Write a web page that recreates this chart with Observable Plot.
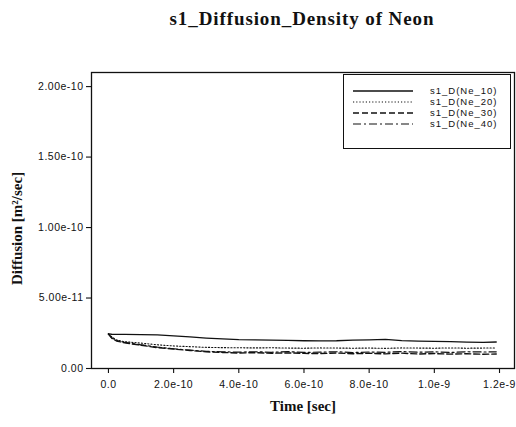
<!DOCTYPE html>
<html><head><meta charset="utf-8">
<script src="https://cdn.jsdelivr.net/npm/d3@7"></script>
<script src="https://cdn.jsdelivr.net/npm/@observablehq/plot@0.6"></script>
<style>
body{margin:0;background:#fff;width:516px;height:427px;overflow:hidden;position:relative;font-family:"Liberation Sans",Arial,sans-serif}
#title{position:absolute;left:88px;width:428px;top:8px;text-align:center;font:bold 19px "Liberation Serif","Times New Roman",serif;letter-spacing:0.9px;color:#111}
#chart{position:absolute;left:0;top:40px}
#legend{position:absolute;left:343px;top:74px;width:168px;height:75px;border:1px solid #111;background:#fff;box-sizing:border-box}
#legend .row{position:absolute;left:8px;height:10px;display:flex;align-items:center}
#legend .row span{margin-left:16px;font-size:9.5px;letter-spacing:1px;color:#111;line-height:10px}
</style></head>
<body>
<div id="title">s1_Diffusion_Density of Neon</div>
<div id="chart"></div>
<div id="legend"></div>
<script>
// time in seconds
const times = [0, 1e-11, 2.5e-11, 5e-11, 1e-10, 1.5e-10, 2e-10, 2.5e-10, 3e-10, 3.5e-10, 4e-10, 4.5e-10, 5e-10, 5.5e-10, 6e-10, 6.5e-10, 7e-10, 7.5e-10, 8e-10, 8.5e-10, 9e-10, 9.5e-10, 1e-9, 1.05e-9, 1.1e-9, 1.15e-9, 1.19e-9];
// diffusion values in units of 1e-11 m^2/sec
const ne10 = [2.45, 2.43, 2.42, 2.42, 2.41, 2.38, 2.32, 2.24, 2.16, 2.10, 2.05, 2.03, 2.01, 1.99, 1.97, 1.96, 1.97, 2.01, 2.03, 2.06, 1.98, 1.94, 1.92, 1.90, 1.87, 1.86, 1.88];
const ne20 = [2.45, 2.25, 2.02, 1.90, 1.80, 1.68, 1.60, 1.55, 1.50, 1.48, 1.47, 1.46, 1.47, 1.45, 1.44, 1.46, 1.45, 1.44, 1.45, 1.43, 1.46, 1.45, 1.44, 1.46, 1.44, 1.45, 1.45];
const ne30 = [2.45, 2.15, 1.95, 1.82, 1.65, 1.48, 1.38, 1.28, 1.18, 1.14, 1.10, 1.12, 1.08, 1.11, 1.07, 1.06, 1.10, 1.05, 1.08, 1.04, 1.09, 1.03, 1.06, 1.02, 1.05, 1.01, 1.03];
const ne40 = [2.45, 2.18, 1.98, 1.85, 1.68, 1.52, 1.40, 1.30, 1.22, 1.18, 1.16, 1.19, 1.15, 1.20, 1.14, 1.16, 1.19, 1.13, 1.17, 1.15, 1.20, 1.16, 1.18, 1.14, 1.19, 1.17, 1.18];
const seriesNames = ["s1_D(Ne_10)", "s1_D(Ne_20)", "s1_D(Ne_30)", "s1_D(Ne_40)"];
const xTicks = [0, 2e-10, 4e-10, 6e-10, 8e-10, 1e-9, 1.2e-9];
const xTickLabels = ["0.0", "2.0e-10", "4.0e-10", "6.0e-10", "8.0e-10", "1.0e-9", "1.2e-9"];
const yTicks = [0, 5e-11, 1e-10, 1.5e-10, 2e-10];
const yTickLabels = ["0.00", "5.00e-11", "1.00e-10", "1.50e-10", "2.00e-10"];

const dashes = ["none", "1.2,2", "6,3", "8,3,2,3"];
const widths = [1.3, 1.1, 1.4, 1.2];
const allSeries = [ne10, ne20, ne30, ne40];
const rows = [];
allSeries.forEach((vals, si) => vals.forEach((v, i) => rows.push({series: seriesNames[si], t: times[i], d: v * 1e-11})));

const serif = '"Liberation Serif","Times New Roman",serif';
const sans = '"Liberation Sans",Arial,sans-serif';

const plot = Plot.plot({
  width: 516, height: 387,
  marginTop: 32, marginBottom: 59, marginLeft: 91, marginRight: 2,
  style: {background: "#fff", color: "#111"},
  x: {domain: [-5.2e-11, 1.246e-9]},
  y: {domain: [0, 2.1e-10]},
  marks: [
    Plot.axisX({ticks: xTicks, tickFormat: d => xTickLabels[xTicks.indexOf(d)], tickSize: 5, tickPadding: 7, fontSize: 10.5, fontFamily: sans, label: null, stroke: "#111", strokeWidth: 1.1}),
    Plot.axisY({ticks: yTicks, tickFormat: d => yTickLabels[yTicks.indexOf(d)], tickSize: 5, tickPadding: 3, fontSize: 10.5, fontFamily: sans, label: null, stroke: "#111", strokeWidth: 1.1}),
    ...seriesNames.map((name, si) => Plot.line(rows.filter(r => r.series === name), {x: "t", y: "d", stroke: "#111", strokeWidth: widths[si], strokeDasharray: dashes[si]})),
    Plot.frame({stroke: "#111", strokeWidth: 1.3}),
    Plot.text(["Time [sec]"], {frameAnchor: "bottom", dy: 42, fontFamily: serif, fontWeight: "bold", fontSize: 15, fill: "#111"}),
    Plot.text(["Diffusion [m²/sec]"], {frameAnchor: "left", textAnchor: "middle", dx: -74, dy: 8, rotate: -90, fontFamily: serif, fontWeight: "bold", fontSize: 15, fill: "#111"})
  ]
});
plot.querySelectorAll("[aria-label='x-axis tick label'] text, [aria-label='y-axis tick label'] text").forEach(t => t.style.letterSpacing = "0.5px");
document.getElementById("chart").appendChild(plot);

const legend = document.getElementById("legend");
seriesNames.forEach((name, i) => {
  const row = document.createElement("div");
  row.className = "row";
  row.style.top = (11 + i * 11) + "px";
  row.innerHTML = `<svg width="62" height="10"><line x1="1" x2="61" y1="5" y2="5" stroke="#111" stroke-width="${widths[i]}" stroke-dasharray="${dashes[i]}"/></svg><span>${name}</span>`;
  legend.appendChild(row);
});
</script>
</body></html>
